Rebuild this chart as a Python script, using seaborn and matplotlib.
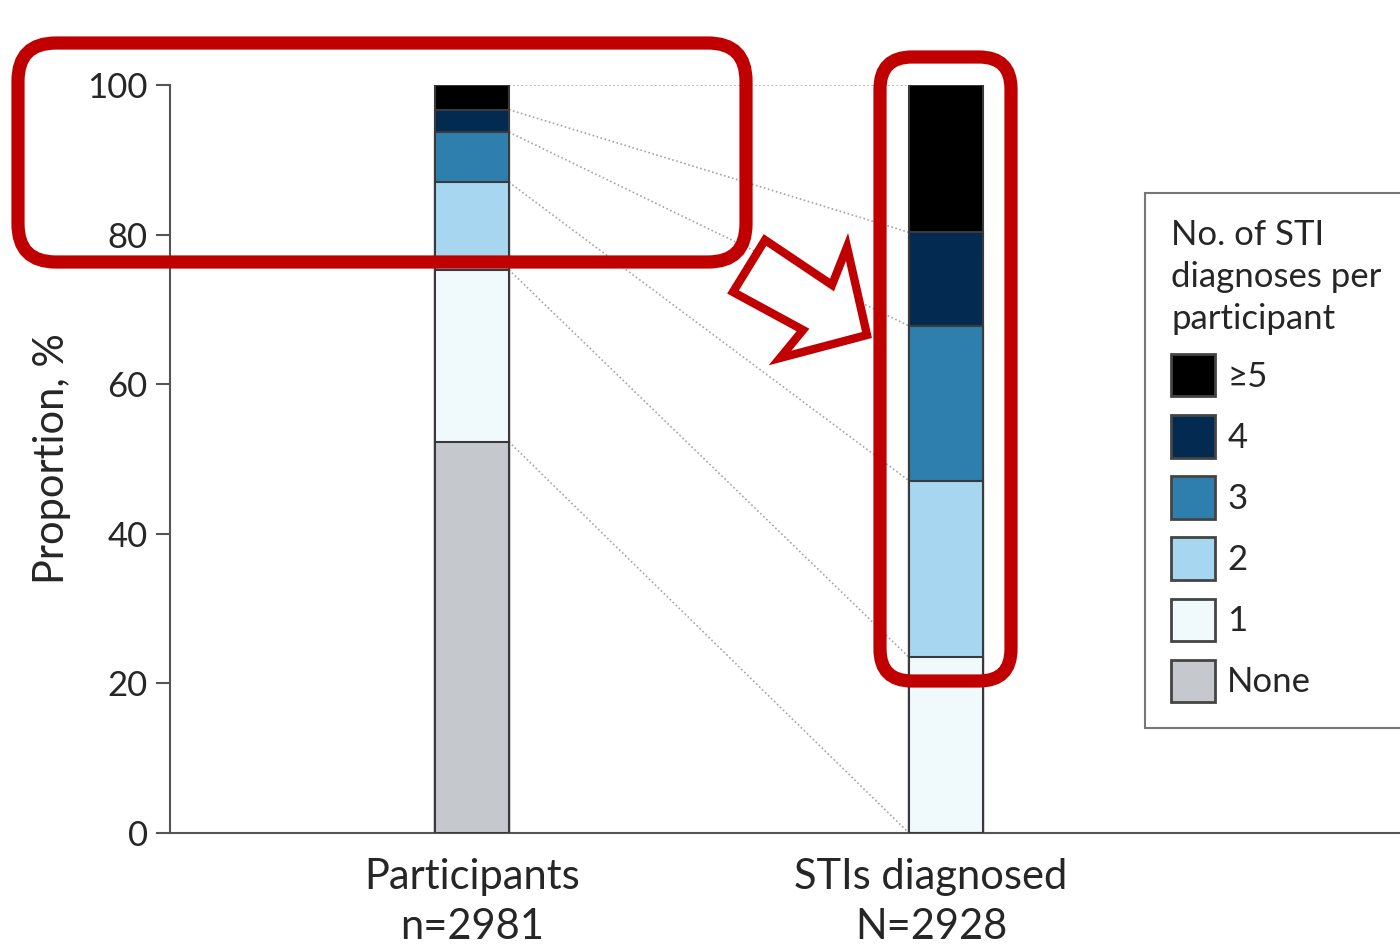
import matplotlib
matplotlib.use("Agg")
import matplotlib.pyplot as plt
from matplotlib.patches import Patch, FancyBboxPatch, Polygon
from matplotlib.transforms import IdentityTransform, ScaledTranslation
import numpy as np
import pandas as pd
import seaborn as sns

# data (% of each column)
groups = ["Participants\nn=2981", "STIs diagnosed\nN=2928"]
levels = ["None", "1", "2", "3", "4", "≥5"]
participants = [52.3, 23.0, 11.7, 6.7, 3.0, 3.3]
stis = [0.0, 23.5, 23.6, 20.7, 12.5, 19.7]
colors = ["#c5c9ce", "#f0fafd", "#a6d6f0", "#2e7fae", "#032b52", "#000000"]
yticks = [0, 20, 40, 60, 80, 100]

sns.set_theme(style="white")
plt.rcParams["font.family"] = ["Lato", "DejaVu Sans"]
fs = 25
fs_lab = 30
red = "#c00000"
edge = "#3a3a3a"

df = pd.DataFrame({
    "group": np.repeat(groups, len(levels)),
    "level": levels * 2,
    "value": participants + stis,
})
df["cum"] = df.groupby("group")["value"].cumsum()

fig = plt.figure(figsize=(14, 9.52), dpi=100)
ax = fig.add_axes([170 / 1400, 119 / 952, 1230 / 1400, 748 / 952])

width = 0.156
# stacked bars: draw cumulative totals from the top level down
for lev, col in reversed(list(zip(levels, colors))):
    sub = df[df["level"] == lev]
    sns.barplot(data=sub, x="group", y="cum", order=groups, color=col,
                saturation=1, width=width, edgecolor=edge, linewidth=1.5,
                errorbar=None, ax=ax, zorder=3)

# dotted connectors between the two columns
p_cum = df[df["group"] == groups[0]]["cum"].values
s_cum = df[df["group"] == groups[1]]["cum"].values
for a, b in zip(p_cum, s_cum):
    ax.plot([width / 2, 1 - width / 2], [a, b], ls=(0, (1, 1.5)),
            color="#a5a5a5", lw=1.2, zorder=2)

ax.set_xlim(-0.637, 1.958)
ax.set_ylim(0, 100)
ax.set_yticks(yticks)
ax.set_xlabel("")
ax.set_ylabel("Proportion, %", fontsize=fs_lab, labelpad=12)
sns.despine(ax=ax)
for s in ["left", "bottom"]:
    ax.spines[s].set_color("#555555")
    ax.spines[s].set_linewidth(1.5)
ax.tick_params(axis="y", direction="out", length=10, width=1.5,
               color="#555555", labelsize=fs, pad=6, left=True)
ax.tick_params(axis="x", length=0, labelsize=fs_lab, pad=18)
xlabels = ax.get_xticklabels()
for t in xlabels:
    t.set_linespacing(1.38)
xlabels[1].set_transform(xlabels[1].get_transform()
                         + ScaledTranslation(-0.15, 0, fig.dpi_scale_trans))

handles = [Patch(facecolor=c, edgecolor="#444444", linewidth=2, label=l)
           for l, c in zip(levels, colors)][::-1]
leg = fig.legend(handles=handles, title="No. of STI\ndiagnoses per\nparticipant",
                 loc="upper left", bbox_to_anchor=(1145 / 1400, 1 - 193 / 952),
                 fontsize=fs, title_fontsize=fs, frameon=True, fancybox=False,
                 edgecolor="#555555", borderpad=0.75, handlelength=1.27,
                 handleheight=1.5, handletextpad=0.35, labelspacing=0.54,
                 alignment="left", borderaxespad=0)
leg.get_frame().set_linewidth(1.5)
leg.get_title().set_linespacing(1.39)

# red highlight boxes and arrow (pixel coordinates, y from bottom)
H = 952
fig.add_artist(FancyBboxPatch((18, H - 262), 728, 219,
                              boxstyle="round,pad=0,rounding_size=38",
                              transform=IdentityTransform(), fill=False,
                              ec=red, lw=9.5, zorder=5))
fig.add_artist(FancyBboxPatch((880, H - 681), 131, 624,
                              boxstyle="round,pad=0,rounding_size=32",
                              transform=IdentityTransform(), fill=False,
                              ec=red, lw=9.5, zorder=5))
arrow = [(765, 240), (832, 285), (847, 247), (867, 335),
         (780, 358), (803, 330), (733, 292)]
fig.add_artist(Polygon([(x, H - y) for x, y in arrow], closed=True,
                       transform=IdentityTransform(), fc="white", ec=red,
                       lw=6, joinstyle="miter", zorder=5))

fig.savefig("out.png", dpi=100)
